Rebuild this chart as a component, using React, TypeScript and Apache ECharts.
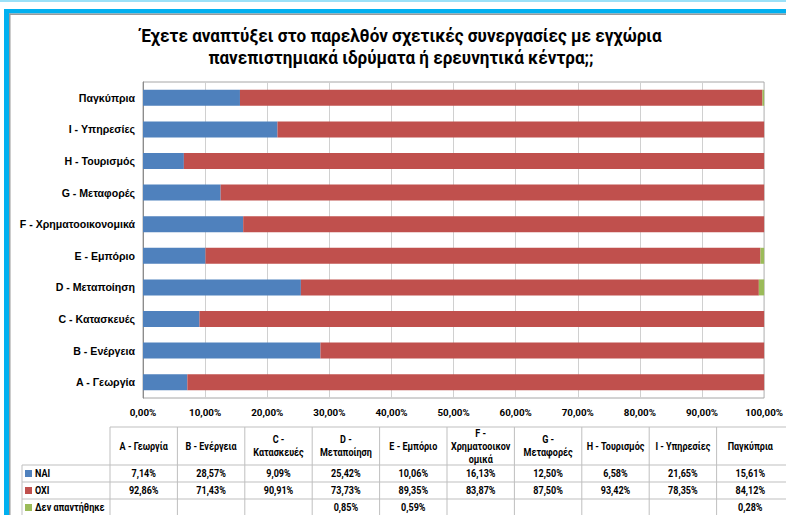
import React, { useEffect, useRef } from "react";
import * as echarts from "echarts";

const titleLines = [
  "Έχετε αναπτύξει στο παρελθόν σχετικές συνεργασίες με εγχώρια",
  "πανεπιστημιακά ιδρύματα ή ερευνητικά κέντρα;;",
];

const categories = [
  "A - Γεωργία",
  "B - Ενέργεια",
  "C - Κατασκευές",
  "D - Μεταποίηση",
  "E - Εμπόριο",
  "F - Χρηματοοικονομικά",
  "G - Μεταφορές",
  "H - Τουρισμός",
  "I - Υπηρεσίες",
  "Παγκύπρια",
];

const tableHeaders = [
  "A - Γεωργία",
  "B - Ενέργεια",
  "C -\nΚατασκευές",
  "D -\nΜεταποίηση",
  "E - Εμπόριο",
  "F -\nΧρηματοοικον\nομικά",
  "G -\nΜεταφορές",
  "H - Τουρισμός",
  "I - Υπηρεσίες",
  "Παγκύπρια",
];

const seriesNames = ["NAI", "OXI", "Δεν απαντήθηκε"];
const naiValues = [7.14, 28.57, 9.09, 25.42, 10.06, 16.13, 12.5, 6.58, 21.65, 15.61];
const oxiValues = [92.86, 71.43, 90.91, 73.73, 89.35, 83.87, 87.5, 93.42, 78.35, 84.12];
const noAnswerValues: (number | null)[] = [null, null, null, 0.85, 0.59, null, null, null, null, 0.28];
const seriesColors = ["#4F81BD", "#C0504D", "#9BBB59"];

const xTicks = { min: 0, max: 100, interval: 10 };

const fmt = (v: number) => v.toFixed(2).replace(".", ",") + "%";

const FONT = "Roboto, 'Liberation Sans', sans-serif";

export default function App() {
  const ref = useRef<HTMLDivElement>(null);

  useEffect(() => {
    if (!ref.current) return;
    const chart = echarts.init(ref.current, null, { renderer: "svg" });

    const allSeries = [naiValues, oxiValues, noAnswerValues];

    const tx0 = 110;
    const colW = 67.4;
    const legendX = 22;
    const headTop = 427;
    const headBottom = 465;
    const rowH = 17;
    const tableRight = 786;
    const lineColor = "#bfbfbf";
    const tScale = 0.86;
    const tFont = `bold 10.5px ${FONT}`;

    const g: any[] = [];
    g.push({ type: "rect", shape: { x: 0, y: 0, width: 786, height: 2 }, style: { fill: "#9be1f8" } });
    g.push({ type: "rect", shape: { x: 4, y: 9, width: 782, height: 4.5 }, style: { fill: "#00b0f0" } });
    g.push({ type: "rect", shape: { x: 9, y: 13.5, width: 777, height: 1.5 }, style: { fill: "#9a9a9a" } });
    g.push({ type: "rect", shape: { x: 4, y: 9, width: 5, height: 506 }, style: { fill: "#00b0f0" } });
    g.push({ type: "rect", shape: { x: 9, y: 13.5, width: 1.5, height: 502 }, style: { fill: "#9a9a9a" } });

    const nRows = seriesNames.length;
    const tableBottom = headBottom + nRows * rowH;
    g.push({ type: "line", shape: { x1: tx0, y1: headTop, x2: tableRight, y2: headTop }, style: { stroke: lineColor, lineWidth: 1 } });
    for (let r = 0; r <= nRows; r++) {
      const y = headBottom + r * rowH;
      g.push({ type: "line", shape: { x1: legendX, y1: y, x2: tableRight, y2: y }, style: { stroke: lineColor, lineWidth: 1 } });
    }
    g.push({ type: "line", shape: { x1: legendX, y1: headBottom, x2: legendX, y2: tableBottom + 2 }, style: { stroke: lineColor, lineWidth: 1 } });
    for (let c = 0; c < tableHeaders.length; c++) {
      const x = tx0 + c * colW;
      g.push({ type: "line", shape: { x1: x, y1: headTop, x2: x, y2: tableBottom + 2 }, style: { stroke: lineColor, lineWidth: 1 } });
    }
    tableHeaders.forEach((h, c) => {
      g.push({
        type: "text",
        x: tx0 + c * colW + colW / 2,
        y: (headTop + headBottom) / 2,
        scaleX: tScale,
        style: {
          text: h,
          fill: "#000",
          font: tFont,
          align: "center",
          verticalAlign: "middle",
          lineHeight: 13,
        },
      });
    });
    seriesNames.forEach((name, r) => {
      const yc = headBottom + r * rowH + rowH / 2;
      g.push({ type: "rect", shape: { x: 25, y: yc - 3.5, width: 7, height: 7 }, style: { fill: seriesColors[r] } });
      g.push({
        type: "text",
        x: 35,
        y: yc,
        scaleX: tScale,
        style: { text: name, fill: "#000", font: tFont, align: "left", verticalAlign: "middle" },
      });
      allSeries[r].forEach((v, c) => {
        if (v == null) return;
        g.push({
          type: "text",
          x: tx0 + c * colW + colW / 2,
          y: yc,
          scaleX: tScale,
          style: { text: fmt(v), fill: "#000", font: tFont, align: "center", verticalAlign: "middle" },
        });
      });
    });
    titleLines.forEach((t, i) => {
      g.push({
        type: "text",
        x: 401,
        y: 36 + i * 22,
        scaleX: 0.95,
        style: { text: t, fill: "#000", font: `bold 18px ${FONT}`, align: "center", verticalAlign: "middle" },
      });
    });

    chart.setOption({
      animation: false,
      grid: {
        left: 143,
        right: 20,
        top: 82,
        height: 316,
        show: true,
        borderColor: "#a6a6a6",
        borderWidth: 1,
        containLabel: false,
      },
      xAxis: {
        type: "value",
        min: xTicks.min,
        max: xTicks.max,
        interval: xTicks.interval,
        axisLine: { show: false },
        axisTick: { show: false },
        splitLine: { show: true, lineStyle: { color: "#d0d0d0", width: 1 } },
        axisLabel: {
          margin: 9,
          color: "#000",
          fontSize: 9.8,
          fontWeight: "bold",
          fontFamily: FONT,
          formatter: (v: number) => fmt(v),
        },
      },
      yAxis: {
        type: "category",
        data: categories,
        axisTick: { show: false },
        axisLine: { show: true, lineStyle: { color: "#8c8c8c", width: 1 } },
        axisLabel: {
          margin: 8,
          color: "#000",
          fontSize: 10.6,
          fontWeight: "bold",
          fontFamily: "'Liberation Sans', Arial, sans-serif",
        },
      },
      series: seriesNames.map((name, i) => ({
        name,
        type: "bar",
        stack: "total",
        barWidth: 16,
        data: allSeries[i],
        itemStyle: { color: seriesColors[i] },
      })),
      graphic: g,
    });

    return () => chart.dispose();
  }, []);

  return (
    <div
      ref={ref}
      style={{ position: "fixed", left: 0, top: 0, width: 786, height: 515, background: "#fff" }}
    />
  );
}
